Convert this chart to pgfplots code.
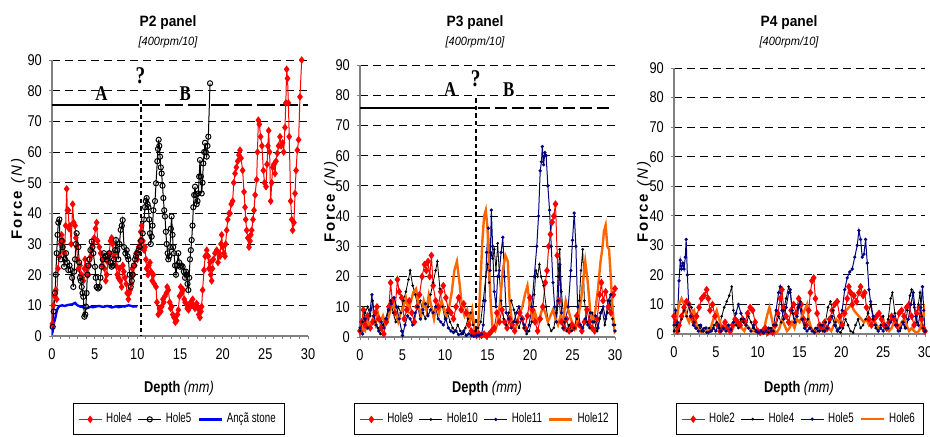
\documentclass[border=0pt]{standalone}
\usepackage{fontspec}
\setmainfont{Liberation Sans}[FakeStretch=0.82]
\newfontfamily\ttlfont{Liberation Sans}[FakeStretch=0.92]
\newfontfamily\lgfont{Liberation Sans}[FakeStretch=0.72]
\newfontfamily\ylfont{Liberation Sans}[LetterSpace=12]
\newfontfamily\abfont{Liberation Serif}[FakeStretch=0.8]
\usepackage{pgfplots}
\pgfplotsset{compat=1.18}

\definecolor{hred}{RGB}{255,0,0}
\definecolor{hnavy}{RGB}{0,0,128}
\definecolor{horange}{RGB}{255,102,0}
\definecolor{hblue}{RGB}{0,0,255}
\definecolor{axgray}{RGB}{128,128,128}

\tikzset{
  abtext/.style={font=\abfont\bfseries\fontsize{10.5}{10.5}\selectfont},
  qtext/.style={font=\abfont\bfseries\fontsize{12}{12}\selectfont},
}
\pgfplotsset{
  panel/.style={
    scale only axis,
    xmin=0, xmax=30, ymin=0, ymax=90,
    xtick={0,5,...,30}, ytick={0,10,...,90},
    minor x tick num=4,
    axis x line*=bottom, axis y line*=left,
    axis line style={-, draw=axgray, line width=0.75pt},
    tick style={draw=axgray, line width=0.5pt},
    tick align=outside,
    major tick length=1.6pt, minor tick length=1.6pt,
    ymajorgrids,
    major grid style={black, line width=0.45pt, dash pattern=on 4pt off 2.5pt},
    /pgf/number format/assume math mode=true,
    ticklabel style={font=\fontsize{7.8}{8}\selectfont},
    xticklabel style={yshift=-1pt},
    legend columns=-1,
    legend style={draw=black, line width=0.5pt, font=\lgfont\fontsize{6.8}{7.5}\selectfont,
      anchor=center, inner xsep=2.5pt, inner ysep=2.5pt,
      /tikz/every even column/.append style={column sep=1pt}},
    legend image code/.code={\draw[mark repeat=2,mark phase=2,##1] plot coordinates {(0pt,0pt) (5.75pt,0pt) (11.5pt,0pt)};},
  },
  hred/.style={color=hred, line width=0.5pt, mark=diamond*, mark size=1.5pt, mark options={solid, fill=hred}},
  hblackc/.style={color=black, line width=0.5pt, mark=o, mark size=1.3pt, mark options={solid}},
  hblackd/.style={color=black, line width=0.4pt, mark=*, mark size=0.45pt},
  hnavy/.style={color=hnavy, line width=0.5pt, mark=*, mark size=0.55pt},
  horange/.style={color=horange, line width=1.2pt, mark=none},
}

\begin{document}
\begin{tikzpicture}
\useasboundingbox (0,0) rectangle (465pt,218pt);

% ---------------- P2 panel ----------------
\begin{axis}[panel, at={(26pt,50pt)}, anchor=south west, width=128pt, height=138pt,
  legend style={at={(0.496,-0.302)}}]
\addplot[hred] coordinates {
(0.05,4)(0.15,10)(0.3,13)(0.45,15)(0.55,12)(0.7,22)(0.85,26)(1.0,30)(1.13,33)(1.3,31)(1.45,27)(1.6,36)(1.72,48)(1.8,41)(1.91,41)(2.0,35)(2.11,36)(2.25,30)(2.42,43)(2.55,37)(2.7,36)(2.8,32)(2.89,29)(3.0,25)(3.1,22)(3.28,23)(3.45,20)(3.55,19)(3.67,18)(3.8,22)(3.87,25)(4.0,22)(4.15,20)(4.26,20)(4.4,23)(4.55,26)(4.65,28)(4.8,30)(4.95,32)(5.1,35)(5.23,37)(5.35,31)(5.55,29)(5.7,27)(5.85,23)(6.02,25)(6.15,22)(6.3,18)(6.41,20)(6.55,24)(6.7,27)(6.85,31)(6.99,32)(7.1,30)(7.25,26)(7.38,27)(7.5,23)(7.65,20)(7.77,19)(7.9,22)(8.0,18)(8.16,16)(8.3,23)(8.42,21)(8.55,19)(8.7,17)(8.8,14)(8.95,12)(9.05,14)(9.14,15)(9.3,17)(9.4,22)(9.53,20)(9.7,23)(9.85,27)(10.0,25)(10.15,29)(10.31,31)(10.4,34)(10.51,36)(10.65,31)(10.8,28)(10.9,29)(11.0,25)(11.09,22)(11.25,20)(11.35,23)(11.48,24)(11.6,21)(11.75,18)(11.88,20)(12.0,17)(12.19,16)(12.3,11)(12.46,7)(12.6,9)(12.75,8)(12.85,9.6)(13.0,12)(13.1,11)(13.24,13)(13.4,14)(13.5,16)(13.63,15)(13.8,11)(13.9,9)(14.02,9.6)(14.15,7)(14.3,6)(14.45,4.5)(14.61,5)(14.7,7)(14.8,8.5)(14.95,13)(15.08,16)(15.2,14)(15.39,15)(15.5,12)(15.6,11)(15.7,10.6)(15.85,9)(16.0,8.5)(16.09,9.6)(16.25,11)(16.35,10)(16.48,12)(16.6,10)(16.75,9)(16.95,10.6)(17.1,9)(17.2,7)(17.34,6)(17.45,8)(17.54,9.6)(17.65,15)(17.81,21.5)(17.95,26)(18.13,28)(18.3,26)(18.4,22)(18.52,24)(18.6,20)(18.71,18)(18.8,22)(18.91,25)(19.1,27)(19.3,28)(19.45,24)(19.6,27)(19.69,26)(19.8,30)(19.88,33)(20.0,29)(20.15,27)(20.27,26)(20.35,30)(20.47,34.5)(20.6,38)(20.75,40)(20.86,40)(21.0,43)(21.17,44)(21.3,50)(21.45,53)(21.6,55)(21.76,57)(21.9,59)(22.03,60.6)(22.15,58)(22.34,54)(22.5,47)(22.62,42)(22.7,38)(22.81,34.5)(22.95,32)(23.09,29)(23.2,31)(23.3,33)(23.4,34.5)(23.55,38)(23.67,41)(23.8,46)(23.98,51)(24.08,60)(24.18,70.4)(24.3,69)(24.45,65)(24.6,62)(24.77,54)(24.9,50)(25.08,48.7)(25.2,56)(25.3,62)(25.39,67)(25.5,60)(25.63,44)(25.75,50)(25.86,55)(26.0,56)(26.13,53)(26.25,57)(26.41,59.6)(26.55,62)(26.72,65)(26.85,62)(27.03,63)(27.15,60)(27.3,68)(27.4,76)(27.5,87)(27.6,84)(27.7,76)(27.8,65)(27.97,44)(28.1,38)(28.2,34.5)(28.35,37)(28.48,46.5)(28.6,54)(28.75,60.6)(28.9,64)(29.06,78)(29.26,90)
};
\addlegendentry{Hole4}
\addplot[hblackc] coordinates {
(0.08,3)(0.2,8)(0.35,14)(0.45,20)(0.55,27)(0.65,33)(0.74,37)(0.86,38)(1.02,25)(1.12,31)(1.25,29)(1.41,22.6)(1.52,25)(1.64,27)(1.78,24)(1.91,21.5)(2.05,23)(2.19,21.5)(2.35,19)(2.5,16)(2.6,21)(2.7,25)(2.8,30)(2.89,33.5)(3.09,29)(3.18,24)(3.28,19)(3.38,18)(3.48,16)(3.58,14)(3.67,12.8)(3.79,6.3)(3.9,7)(3.98,9.6)(4.05,14)(4.14,20)(4.25,23)(4.38,25)(4.5,28)(4.65,30.8)(4.74,29)(4.84,27)(5.04,22.6)(5.12,19)(5.23,16)(5.4,15.5)(5.55,16)(5.68,19)(5.82,22.6)(5.95,25)(6.09,27)(6.25,26)(6.41,25)(6.55,26)(6.72,27)(6.85,24)(6.99,22.6)(7.12,23)(7.27,25)(7.38,28)(7.5,31.3)(7.65,28)(7.77,25)(7.9,30)(8.05,34.6)(8.18,36)(8.28,37.8)(8.44,29)(8.6,27)(8.75,28)(8.85,26)(8.95,25)(9.1,20)(9.22,16)(9.35,18)(9.45,20)(9.6,23)(9.73,25)(9.85,26)(10.0,27)(10.15,28)(10.31,29)(10.45,31)(10.63,33.5)(10.78,38)(10.9,42)(11.0,44)(11.09,45)(11.2,43)(11.29,42)(11.4,38)(11.48,33.5)(11.58,30)(11.68,32.4)(11.78,36)(11.88,41)(12.07,44)(12.19,49.8)(12.34,57)(12.42,61)(12.5,64)(12.58,62)(12.66,58.5)(12.75,55)(12.85,53)(12.95,49)(13.05,45)(13.15,41)(13.24,39)(13.34,34)(13.44,30)(13.55,27)(13.63,25)(13.73,26)(13.83,29)(13.93,35)(14.02,39)(14.12,33)(14.2,29)(14.3,27)(14.42,23)(14.53,20)(14.65,23)(14.8,27)(14.9,24)(15.0,22.6)(15.15,23)(15.31,22.6)(15.45,21)(15.59,19)(15.7,21)(15.78,20)(15.88,17)(15.98,15)(16.08,19)(16.17,25)(16.27,28)(16.37,31.3)(16.47,36)(16.56,42)(16.66,46)(16.76,48.7)(16.85,46)(16.95,43)(17.05,44)(17.15,46.5)(17.25,52)(17.34,57.4)(17.44,52)(17.54,46.5)(17.64,50)(17.73,56.3)(17.83,60)(17.93,63)(18.03,60)(18.13,58.5)(18.22,62)(18.32,65)(18.52,82.4)
};
\addlegendentry{Hole5}
\addplot[color=hblue, line width=1.2pt, mark=none] coordinates {
(0,0.5)(0.1,2)(0.2,4)(0.3,5)(0.4,6)(0.5,7.5)(0.6,8.5)(0.7,9.2)(0.9,9.8)(1.2,10)(1.5,9.8)(1.8,10.1)(2.0,10.2)(2.3,10.3)(2.5,10.5)(2.7,10.8)(2.9,10.2)(3.0,10)(3.3,9.6)(3.5,9.5)(3.8,9.2)(4.0,9)(4.3,9.3)(4.5,9.5)(4.8,9.4)(5.0,9.5)(5.3,9.7)(5.5,9.8)(5.8,9.6)(6.0,9.5)(6.3,9.7)(6.5,9.8)(6.8,9.5)(7.0,9.3)(7.3,9.5)(7.5,9.7)(7.8,9.4)(8.0,9.5)(8.3,9.7)(8.5,9.6)(8.8,9.9)(9.0,10)(9.3,9.8)(9.5,9.6)(9.8,9.7)(10.0,9.6)
};
\addlegendentry{Ançã stone}
\draw[black, line width=1.3pt] (axis cs:0,75.3) -- (axis cs:10.25,75.3);
\draw[black, line width=1.3pt, dash pattern=on 9pt off 2.5pt] (axis cs:10.6,75.3) -- (axis cs:30,75.3);
\draw[black, line width=1pt, dash pattern=on 2.2pt off 1.6pt] (axis cs:10.45,77) -- (axis cs:10.45,0);
\node[abtext] at (axis cs:5.8,79) {A};
\node[abtext] at (axis cs:15.6,79) {B};
\node[qtext] at (axis cs:10.35,85) {?};
\end{axis}

% ---------------- P3 panel ----------------
\begin{axis}[panel, at={(180pt,49.5pt)}, anchor=south west, width=127.5pt, height=136pt,
  legend style={at={(0.494,-0.303)}}]
\addplot[hred] coordinates {
(0,2)(0.2,5)(0.4,9)(0.6,4)(0.9,7)(1.2,3)(1.5,5)(1.8,8)(2.0,10)(2.2,6)(2.5,3)(2.8,1)(3.1,5)(3.4,10)(3.6,18)(3.8,12)(4.1,8)(4.4,19)(4.6,15)(4.9,13)(5.2,6)(5.5,9)(5.8,12)(6.1,8)(6.4,5)(6.7,10)(7.0,14)(7.3,20)(7.6,24)(7.8,22)(8.0,25)(8.2,20)(8.4,27)(8.6,17)(8.9,12)(9.2,10)(9.5,15)(9.8,17)(10.1,13)(10.4,9)(10.7,8)(11.0,6)(11.3,10)(11.6,13)(11.9,9)(12.2,11)(12.5,8)(12.8,4)(13.1,2)(13.4,1)(13.7,0.5)(14.0,1)(14.3,0.5)(14.6,1)(14.9,0.3)(15.2,1)(15.5,2)(15.8,3)(16.1,8)(16.4,5)(16.7,9)(17.0,5)(17.3,3)(17.6,6)(17.9,4)(18.2,2)(18.5,5)(18.8,8)(19.1,6)(19.4,3)(19.7,7)(20.0,13)(20.3,9)(20.6,5)(20.9,2)(21.2,6)(21.5,10)(21.8,18)(22.0,22)(22.2,30)(22.4,34)(22.6,38)(22.8,40)(23.0,44)(23.2,27)(23.4,12)(23.7,5)(24.0,3)(24.3,6)(24.6,2)(24.9,4)(25.2,3)(25.5,7)(25.8,4)(26.1,2)(26.4,5)(26.7,9)(27.0,5)(27.3,3)(27.6,2)(27.9,6)(28.2,14)(28.4,18)(28.6,12)(28.9,15)(29.2,10)(29.5,8)(29.8,14)(30,16)
};
\addlegendentry{Hole9}
\addplot[hblackd] coordinates {
(0,2)(0.3,5)(0.6,8)(0.9,10)(1.2,7)(1.5,12)(1.8,5)(2.1,3)(2.4,1)(2.7,4)(3.0,6)(3.3,9)(3.6,12)(3.9,8)(4.2,5)(4.5,10)(4.8,8)(5.1,12)(5.4,15)(5.7,19)(5.9,22)(6.2,17)(6.5,14)(6.8,10)(7.1,12)(7.4,8)(7.7,6)(8.0,10)(8.3,14)(8.6,18)(8.9,22)(9.1,25)(9.4,16)(9.7,10)(10.0,6)(10.3,8)(10.6,5)(10.9,3)(11.2,2)(11.5,4)(11.8,2)(12.1,1)(12.4,3)(12.7,6)(13.0,8)(13.3,4)(13.6,2)(13.9,3)(14.2,5)(14.5,12)(14.8,20)(15.0,24)(15.2,18)(15.4,28)(15.6,26)(15.8,29)(16.0,22)(16.2,31)(16.4,20)(16.6,12)(16.9,6)(17.2,4)(17.5,8)(17.8,12)(18.1,9)(18.4,5)(18.7,3)(19.0,6)(19.3,3)(19.6,1)(19.9,2)(20.2,5)(20.5,14)(20.7,22)(20.9,20)(21.1,24)(21.3,20)(21.6,17)(21.9,10)(22.2,4)(22.5,2)(22.8,3)(23.1,8)(23.3,20)(23.5,29)(23.7,15)(24.0,5)(24.3,2)(24.6,4)(24.9,2)(25.2,3)(25.5,6)(25.8,12)(26.0,22)(26.2,29)(26.4,12)(26.7,5)(27.0,3)(27.3,8)(27.6,5)(27.9,2)(28.2,6)(28.5,9)(28.8,4)(29.1,8)(29.4,12)(29.7,6)(30,4)
};
\addlegendentry{Hole10}
\addplot[hnavy] coordinates {
(0,3)(0.3,1)(0.6,6)(0.9,3)(1.2,9)(1.4,14)(1.6,7)(1.9,4)(2.2,2)(2.5,5)(2.8,3)(3.1,6)(3.4,9)(3.7,11)(4.0,13)(4.3,10)(4.6,6)(4.9,2)(5.0,0.5)(5.3,4)(5.6,7)(5.9,6)(6.2,4)(6.5,8)(6.8,10)(7.1,6)(7.4,9)(7.7,11)(8.0,7)(8.3,9)(8.6,8)(8.9,10)(9.2,6)(9.5,5)(9.8,4)(10.1,6)(10.4,3)(10.7,2)(11.0,1.5)(11.3,2)(11.6,0.8)(11.9,1)(12.2,2)(12.5,0.5)(12.8,1)(13.1,0.5)(13.4,0.3)(13.7,0.5)(14.0,0.5)(14.3,1)(14.5,4)(14.7,12)(14.9,28)(15.1,36)(15.3,22)(15.45,42)(15.6,30)(15.8,15)(16.0,10)(16.2,20)(16.4,22)(16.6,28)(16.8,33)(17.0,20)(17.2,8)(17.5,6)(17.8,3)(18.1,5)(18.4,8)(18.7,10)(19.0,6)(19.3,4)(19.6,2)(19.9,4)(20.2,10)(20.5,20)(20.8,30)(21.0,40)(21.2,55)(21.35,58)(21.45,63)(21.6,57)(21.75,61)(21.9,60)(22.1,50)(22.3,42)(22.5,30)(22.7,18)(22.9,10)(23.1,5)(23.3,12)(23.5,24)(23.7,8)(23.9,3)(24.2,6)(24.5,10)(24.8,22)(25.0,32)(25.2,41)(25.4,30)(25.6,10)(25.9,4)(26.2,3)(26.5,6)(26.8,4)(27.1,8)(27.4,5)(27.7,7)(28.0,3)(28.3,8)(28.6,10)(28.9,6)(29.2,12)(29.5,14)(29.8,4)(30,2)
};
\addlegendentry{Hole11}
\addplot[horange] coordinates {
(0,1)(0.3,3)(0.6,2)(0.9,5)(1.2,3)(1.5,6)(1.8,4)(2.1,8)(2.4,5)(2.7,7)(3.0,4)(3.3,6)(3.6,9)(3.9,12)(4.2,8)(4.5,5)(4.8,8)(5.1,10)(5.4,13)(5.7,9)(6.0,12)(6.3,15)(6.6,16)(6.9,10)(7.2,7)(7.5,12)(7.8,9)(8.1,14)(8.4,10)(8.7,6)(9.0,11)(9.3,8)(9.6,12)(9.9,9)(10.2,7)(10.5,10)(10.8,15)(11.1,22)(11.4,25)(11.7,18)(12.0,10)(12.3,7)(12.6,9)(12.9,5)(13.2,9)(13.5,2)(13.8,1)(14.0,8)(14.2,20)(14.4,32)(14.6,40)(14.8,42)(15.0,36)(15.2,22)(15.4,10)(15.6,3)(15.9,2)(16.2,5)(16.5,12)(16.8,22)(17.1,27)(17.4,25)(17.6,12)(17.9,4)(18.2,2)(18.5,5)(18.8,8)(19.1,10)(19.4,14)(19.7,17)(20.0,10)(20.3,6)(20.6,8)(20.9,5)(21.2,7)(21.5,10)(21.8,8)(22.1,5)(22.4,7)(22.7,9)(23.0,6)(23.3,4)(23.6,7)(23.9,5)(24.2,12)(24.5,9)(24.8,6)(25.1,4)(25.4,3)(25.7,7)(26.0,12)(26.3,20)(26.5,25)(26.8,18)(27.1,8)(27.4,5)(27.7,9)(28.0,16)(28.3,25)(28.5,29)(28.7,35)(28.9,37)(29.1,30)(29.3,29)(29.5,20)(29.7,10)(29.9,3)(30,1)
};
\addlegendentry{Hole12}
\draw[black, line width=1.2pt] (axis cs:0,75.7) -- (axis cs:13.6,75.7);
\draw[black, line width=0.9pt, dash pattern=on 6pt off 2.5pt] (axis cs:13.85,75.7) -- (axis cs:29.6,75.7);
\draw[black, line width=1pt, dash pattern=on 2.2pt off 1.6pt] (axis cs:13.7,79) -- (axis cs:13.7,0);
\node[abtext] at (axis cs:10.6,82) {A};
\node[abtext] at (axis cs:17.5,82) {B};
\node[qtext] at (axis cs:13.6,85.5) {?};
\end{axis}

% ---------------- P4 panel ----------------
\begin{axis}[panel, at={(337pt,51pt)}, anchor=south west, width=125.5pt, height=133pt,
  legend style={at={(0.502,-0.32)}}]
\addplot[hred] coordinates {
(0,6)(0.2,4)(0.4,1)(0.6,3)(0.9,6)(1.2,9)(1.5,11)(1.8,10)(2.1,6)(2.4,4)(2.7,6)(3.0,9)(3.3,12)(3.6,13)(3.9,15)(4.1,12)(4.3,8)(4.6,10)(4.9,6)(5.2,3)(5.5,1)(5.8,2)(6.1,4)(6.4,2)(6.7,1)(7.0,3)(7.3,5)(7.6,4)(7.9,3)(8.2,5)(8.5,4)(8.8,7)(9.1,9)(9.4,8)(9.7,4)(10.0,1)(10.3,0.5)(10.6,1)(10.9,2)(11.2,0.5)(11.5,1)(11.8,0.5)(12.1,3)(12.4,7)(12.7,12)(12.9,15)(13.1,9)(13.4,6)(13.7,4)(14.0,8)(14.3,10)(14.6,7)(14.9,12)(15.2,10)(15.5,5)(15.8,3)(16.1,8)(16.3,14)(16.5,18)(16.7,19)(16.9,12)(17.1,7)(17.4,3)(17.7,2)(18.0,4)(18.3,2)(18.6,5)(18.9,8)(19.2,10)(19.5,11)(19.8,6)(20.1,3)(20.4,7)(20.7,12)(20.9,16)(21.1,14)(21.3,10)(21.5,13)(21.8,11)(22.1,14)(22.3,16)(22.6,13)(22.8,14)(23.0,9)(23.3,5)(23.6,3)(23.9,5)(24.2,6)(24.5,7)(24.8,5)(25.1,3)(25.4,2)(25.7,4)(26.0,6)(26.3,5)(26.6,3)(26.9,7)(27.2,8)(27.5,6)(27.8,9)(28.1,10)(28.4,6)(28.7,3)(29.0,7)(29.3,9)(29.6,5)(29.8,2)(30,1)
};
\addlegendentry{Hole2}
\addplot[hblackd] coordinates {
(0,1)(0.3,3)(0.6,1)(0.9,5)(1.2,8)(1.5,6)(1.8,10)(2.1,9)(2.4,4)(2.7,2)(3.0,3)(3.3,1)(3.6,2)(3.9,0.5)(4.2,2)(4.5,1)(4.8,3)(5.1,4)(5.4,2)(5.7,6)(6.0,9)(6.3,11)(6.6,13)(6.9,16)(7.1,8)(7.4,3)(7.7,2)(8.0,5)(8.3,4)(8.6,3)(8.9,6)(9.2,4)(9.5,2)(9.8,1)(10.1,0.5)(10.4,1)(10.7,0.3)(11.0,1)(11.3,0.5)(11.6,2)(11.9,1)(12.2,3)(12.5,6)(12.8,4)(13.1,8)(13.4,12)(13.7,16)(13.9,14)(14.2,7)(14.5,4)(14.8,9)(15.1,11)(15.4,5)(15.7,3)(16.0,5)(16.3,2)(16.6,1)(16.9,2)(17.2,1)(17.5,3)(17.8,1)(18.1,4)(18.4,9)(18.7,11)(19.0,8)(19.3,4)(19.6,1)(19.9,0.5)(20.2,2)(20.5,5)(20.8,3)(21.1,1)(21.4,0.5)(21.7,3)(22.0,5)(22.3,2)(22.6,3)(22.9,5)(23.2,7)(23.5,10)(23.8,5)(24.1,2)(24.4,1)(24.7,3)(25.0,6)(25.3,2)(25.6,5)(25.9,12)(26.1,14)(26.4,7)(26.7,3)(27.0,1)(27.3,4)(27.6,2)(27.9,8)(28.2,13)(28.4,15)(28.7,9)(29.0,4)(29.2,10)(29.4,14)(29.6,6)(29.8,2)(30,1)
};
\addlegendentry{Hole4}
\addplot[hnavy] coordinates {
(0,3)(0.2,8)(0.4,4)(0.6,18)(0.75,25)(0.9,22)(1.05,24)(1.2,22)(1.35,26)(1.45,32)(1.6,20)(1.75,10)(2.0,6)(2.3,3)(2.6,2)(2.9,1)(3.2,3)(3.5,1)(3.8,2)(4.1,0.5)(4.4,1)(4.7,2)(5.0,1)(5.3,3)(5.6,1)(5.9,2)(6.2,1)(6.5,3)(6.8,1.5)(7.1,4)(7.4,7)(7.7,10)(8.0,7)(8.3,5)(8.6,3)(8.9,2)(9.2,1)(9.5,3)(9.8,1)(10.1,0.5)(10.4,1)(10.7,0.5)(11.0,1)(11.3,2)(11.6,1)(11.9,3)(12.2,8)(12.5,14)(12.7,16)(12.9,8)(13.1,5)(13.4,9)(13.7,14)(13.9,15)(14.1,8)(14.4,4)(14.7,6)(15.0,10)(15.3,5)(15.6,2)(15.9,1)(16.2,2)(16.5,1)(16.8,0.5)(17.1,2)(17.4,1)(17.7,3)(18.0,1)(18.3,2)(18.6,4)(18.9,6)(19.2,3)(19.5,1)(19.8,2)(20.1,8)(20.4,15)(20.7,19)(21.0,21)(21.3,22)(21.6,26)(21.9,30)(22.1,35)(22.3,32)(22.5,26)(22.7,27)(22.9,32)(23.1,24)(23.3,15)(23.5,11)(23.8,6)(24.1,3)(24.4,1)(24.7,2)(25.0,1)(25.3,3)(25.6,2)(25.9,4)(26.2,6)(26.5,3)(26.8,1)(27.1,2)(27.4,4)(27.7,2)(28.0,5)(28.3,10)(28.6,14)(28.9,6)(29.2,3)(29.5,9)(29.7,16)(29.85,8)(30,1)
};
\addlegendentry{Hole5}
\addplot[horange] coordinates {
(0,2)(0.3,5)(0.6,10)(0.9,12)(1.2,10)(1.5,6)(1.8,4)(2.1,7)(2.4,8)(2.7,3)(3.0,1)(3.3,0.5)(3.6,1)(3.9,2)(4.2,0.5)(4.5,3)(4.8,6)(5.1,8)(5.4,5)(5.7,2)(6.0,3)(6.3,1)(6.6,2)(6.9,1)(7.2,3)(7.5,5)(7.8,4)(8.1,2)(8.4,1)(8.7,3)(9.0,2)(9.3,1)(9.6,1)(9.9,0.5)(10.2,1)(10.5,0.5)(10.8,2)(11.1,6)(11.4,9)(11.7,5)(12.0,1)(12.3,0.5)(12.6,2)(12.9,5)(13.2,3)(13.5,1)(13.8,2)(14.1,4)(14.4,2)(14.7,5)(15.0,4)(15.3,6)(15.6,8)(15.9,10)(16.1,5)(16.4,2)(16.7,1)(17.0,0.5)(17.3,1)(17.6,2)(17.9,0.5)(18.2,1)(18.5,2)(18.8,1)(19.1,3)(19.4,5)(19.7,4)(20.0,6)(20.3,7)(20.6,8)(20.9,9)(21.2,10)(21.5,8)(21.8,7)(22.1,6)(22.4,5)(22.7,4)(23.0,5)(23.3,3)(23.6,4)(23.9,5)(24.2,3)(24.5,2)(24.8,3)(25.1,4)(25.4,2)(25.7,1)(26.0,2)(26.3,4)(26.6,3)(26.9,2)(27.2,4)(27.5,5)(27.8,3)(28.1,1)(28.4,2)(28.7,1)(29.0,0.5)(29.3,1)(29.6,4)(29.9,8)(30,6)
};
\addlegendentry{Hole6}
\end{axis}

% ---------------- titles and labels ----------------
\foreach \cx/\tt in {84pt/P2, 237.5pt/P3, 394.5pt/P4} {
  \node[font=\ttlfont\bfseries\fontsize{7.5}{7.5}\selectfont, anchor=base] at (\cx,205pt) {\tt\ panel};
  \node[font=\ttlfont\itshape\fontsize{6}{6}\selectfont, anchor=base] at (\cx,195.5pt) {[400rpm/10]};
}
\foreach \cx in {89.5pt, 243.5pt, 399.5pt} {
  \node[font=\fontsize{7.8}{8}\selectfont, anchor=base] at (\cx,22pt) {\textbf{Depth} \textit{(mm)}};
}
\foreach \cx/\cy in {9pt/119pt, 165.5pt/117.5pt, 322pt/117.5pt} {
  \node[rotate=90, font=\ylfont\fontsize{7.5}{7.5}\selectfont] at (\cx,\cy) {\textbf{Force} \textit{(N)}};
}
\end{tikzpicture}
\end{document}
